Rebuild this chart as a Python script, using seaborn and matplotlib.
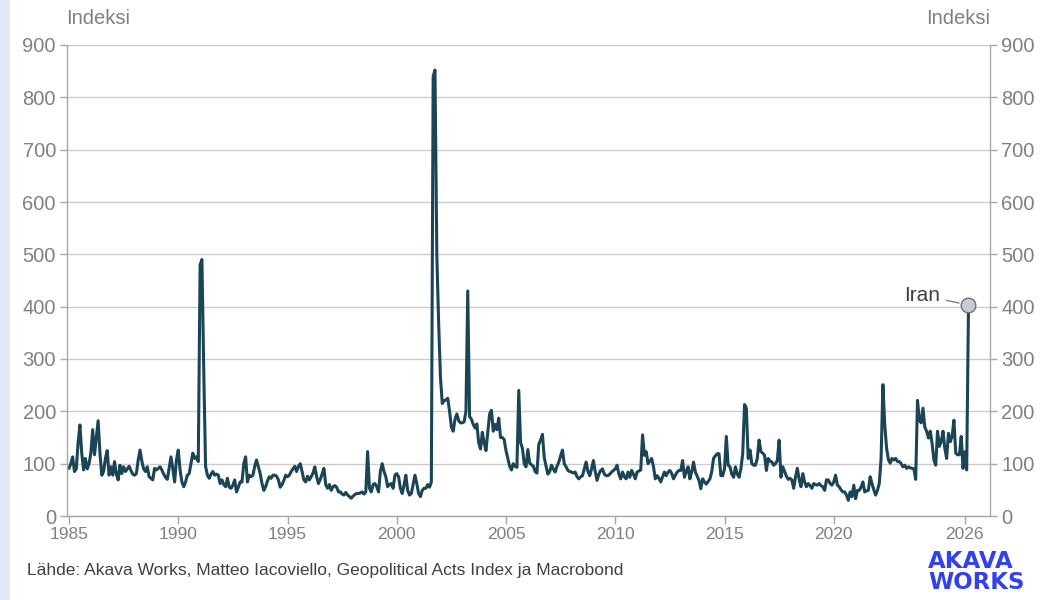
import numpy as np
import pandas as pd
import matplotlib
matplotlib.use("Agg")
import matplotlib.pyplot as plt
import seaborn as sns
from matplotlib.patches import Rectangle

# ---- data (monthly index values, Jan 1985 ... Mar 2026) ----
start_year = 1985
gpa_1985_1994 = [
    91, 100, 113, 85, 90, 140, 174, 120, 88, 110, 90, 100,      # 1985
    120, 165, 117, 150, 182, 120, 78, 85, 110, 125, 78, 94,     # 1986
    78, 104, 80, 69, 97, 81, 94, 85, 90, 95, 87, 80,            # 1987
    78, 81, 107, 126, 105, 90, 85, 94, 75, 72, 69, 91,          # 1988
    88, 91, 94, 88, 80, 74, 70, 91, 113, 91, 65, 107,           # 1989
    126, 88, 65, 56, 65, 78, 81, 100, 120, 110, 113, 104,       # 1990
    480, 490, 280, 95, 78, 72, 80, 85, 78, 80, 78, 62,          # 1991
    69, 60, 56, 72, 55, 53, 59, 69, 46, 55, 65, 65,             # 1992
    100, 113, 65, 78, 75, 78, 95, 107, 94, 81, 62, 49,          # 1993
    56, 67, 75, 72, 78, 78, 76, 69, 55, 60, 68, 78,             # 1994
]
gpa_1995_2004 = [
    75, 78, 85, 90, 95, 85, 95, 100, 85, 69, 65, 76,            # 1995
    69, 75, 82, 94, 75, 62, 70, 80, 91, 60, 53, 60,             # 1996
    49, 56, 58, 55, 46, 46, 42, 40, 45, 40, 37, 34,             # 1997
    38, 41, 43, 43, 44, 46, 42, 46, 123, 53, 46, 60,            # 1998
    62, 56, 46, 85, 100, 85, 75, 56, 60, 62, 53, 78,            # 1999
    81, 75, 53, 43, 59, 78, 49, 40, 43, 60, 78, 62,             # 2000
    43, 37, 49, 53, 53, 60, 55, 65, 840, 852, 500, 370,         # 2001
    265, 215, 220, 222, 225, 200, 170, 162, 185, 195, 182, 178, # 2002
    178, 180, 200, 430, 190, 185, 175, 168, 176, 140, 128, 160, # 2003
    140, 125, 160, 195, 202, 162, 175, 165, 187, 150, 150, 146, # 2004
]
gpa_2005_2014 = [
    125, 110, 95, 88, 100, 95, 93, 240, 140, 130, 100, 94,      # 2005
    127, 101, 98, 95, 85, 82, 137, 145, 156, 112, 95, 80,       # 2006
    85, 97, 90, 84, 95, 103, 115, 126, 100, 94, 87, 85,         # 2007
    84, 82, 84, 75, 71, 75, 77, 90, 103, 85, 77, 90,            # 2008
    106, 85, 68, 80, 87, 90, 80, 77, 77, 80, 84, 87,            # 2009
    90, 97, 80, 71, 84, 75, 71, 84, 74, 87, 80, 71,             # 2010
    84, 86, 88, 155, 116, 123, 100, 105, 110, 94, 71, 77,       # 2011
    72, 65, 75, 84, 77, 84, 87, 81, 71, 78, 84, 87,             # 2012
    87, 106, 74, 85, 94, 71, 85, 103, 84, 76, 68, 52,           # 2013
    71, 65, 61, 66, 71, 85, 110, 115, 119, 119, 77, 77,         # 2014
]
gpa_2015_2026 = [
    90, 152, 97, 94, 80, 74, 94, 80, 74, 90, 119, 213,          # 2015
    206, 110, 126, 100, 97, 97, 110, 145, 123, 120, 116, 87,    # 2016
    110, 105, 103, 97, 100, 106, 145, 74, 94, 85, 76, 70,       # 2017
    72, 69, 53, 75, 91, 70, 56, 81, 65, 56, 62, 58,             # 2018
    53, 62, 60, 59, 62, 58, 56, 49, 69, 69, 62, 59,             # 2019
    65, 78, 59, 56, 50, 46, 46, 40, 30, 46, 37, 59,             # 2020
    33, 49, 49, 55, 65, 46, 48, 49, 75, 62, 50, 40,             # 2021
    49, 62, 110, 251, 175, 130, 108, 101, 110, 107, 110, 104,   # 2022
    104, 100, 94, 97, 91, 94, 92, 91, 90, 70, 221, 184,         # 2023
    178, 206, 170, 162, 149, 162, 139, 107, 97, 162, 133, 142,  # 2024
    162, 129, 110, 158, 142, 152, 183, 120, 117, 117, 152, 91,  # 2025
    123, 88, 403,                                               # 2026
]
y_ticks = [0, 100, 200, 300, 400, 500, 600, 700, 800, 900]
x_ticks = [1985, 1990, 1995, 2000, 2005, 2010, 2015, 2020, 2026]
axis_label = "Indeksi"
annotation_label = "Iran"
source_text = "Lähde: Akava Works, Matteo Iacoviello, Geopolitical Acts Index ja Macrobond"
logo_text = "AKAVA\nWORKS"

values = gpa_1985_1994 + gpa_1995_2004 + gpa_2005_2014 + gpa_2015_2026
df = pd.DataFrame({"t": start_year + np.arange(len(values)) / 12.0, "v": values})

# ---- style ----
sns.set_theme(style="white")
plt.rcParams["font.family"] = ["Liberation Sans", "DejaVu Sans"]

W, H = 1044, 600
fig = plt.figure(figsize=(W / 100, H / 100), dpi=100)
fig.patches.append(Rectangle((0, 0), 10 / W, 1, transform=fig.transFigure,
                             facecolor="#dfe9f9", edgecolor="none", zorder=0))

ax = fig.add_axes([67 / W, (H - 516) / H, 923 / W, 471 / H])
line_color = "#1b4557"
sns.lineplot(data=df, x="t", y="v", ax=ax, color=line_color, linewidth=2.2)

ax.set_xlim(1985 - 2 / 21.85, 1985 - 2 / 21.85 + 923 / 21.85)
ax.set_ylim(0, 900)
ax.set_yticks(y_ticks)
ax.set_xticks(x_ticks)
ax.set_xticklabels([str(v) for v in x_ticks])
ax.set_xlabel("")
ax.set_ylabel("")

grid_c = "#cccccc"
ax.yaxis.grid(True, color=grid_c, linewidth=1.0)
ax.xaxis.grid(False)
ax.set_axisbelow(True)
spine_c = "#a8a8a8"
for s in ["left", "right", "bottom"]:
    ax.spines[s].set_visible(True)
    ax.spines[s].set_color(spine_c)
    ax.spines[s].set_linewidth(1.0)
ax.spines["top"].set_visible(False)

tick_c = "#808080"
ax.tick_params(axis="y", which="both", left=True, right=True, labelleft=True,
               labelright=True, direction="out", length=5, width=1,
               color=spine_c, labelcolor=tick_c, labelsize=14.5, pad=3)
ax.tick_params(axis="x", which="both", bottom=True, direction="out", length=6,
               width=1, color=spine_c, labelcolor=tick_c, labelsize=12.5, pad=2)

# axis unit labels
fig.text(66 / W, 1 - 19 / H, axis_label, ha="left", va="center",
         color=tick_c, fontsize=14.5)
fig.text(990 / W, 1 - 19 / H, axis_label, ha="right", va="center",
         color=tick_c, fontsize=14.5)

# Iran annotation on the last point
last_t = df["t"].iloc[-1]
last_v = df["v"].iloc[-1]
ax.plot([last_t], [last_v], marker="o", markersize=10.5,
        markerfacecolor="#c9ccd6", markeredgecolor="#707070",
        markeredgewidth=1.0, zorder=5, clip_on=False)
ax.annotate(annotation_label, xy=(last_t, last_v), xycoords="data",
            xytext=(-28, 10), textcoords="offset pixels",
            ha="right", va="center", fontsize=15, color="#404040",
            arrowprops=dict(arrowstyle="-", color="#808080", lw=1.0,
                            shrinkA=2, shrinkB=7))

# source
fig.text(27 / W, 1 - 571 / H, source_text, ha="left", va="center",
         color="#404040", fontsize=12.5)

# logo
logo_c = "#3340f0"
fig.text(928 / W, 1 - 572 / H, logo_text, ha="left", va="center",
         color=logo_c, fontsize=16.5, fontweight="bold", family="DejaVu Sans",
         linespacing=0.92, multialignment="left")

fig.savefig("out.png", dpi=100)
